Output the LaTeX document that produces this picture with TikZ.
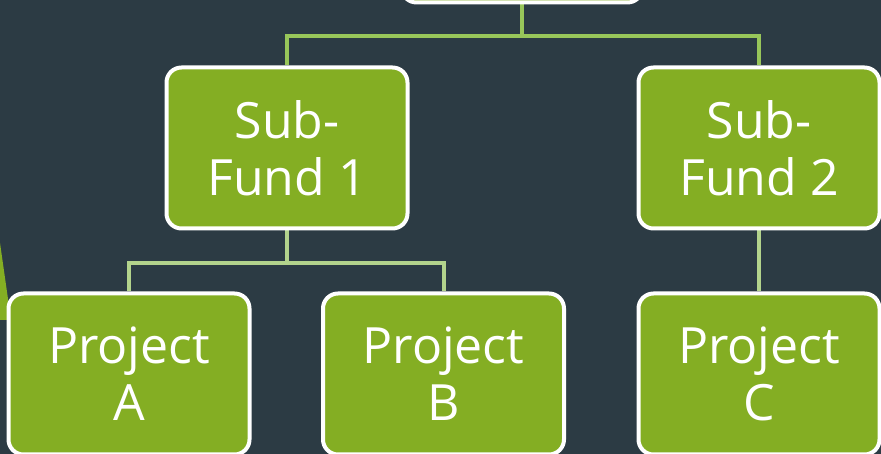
\documentclass[tikz,border=0pt]{standalone}
\usepackage{fontspec}
\setmainfont{Open Sans}
\definecolor{bgc}{HTML}{2C3B44}
\definecolor{boxc}{HTML}{84AE23}
\definecolor{lineA}{HTML}{98C65A}
\definecolor{lineB}{HTML}{B3D38C}
\pgfdeclarelayer{bottom}
\pgfdeclarelayer{background}
\pgfsetlayers{bottom,background,main}
\begin{document}
\begin{tikzpicture}[x=1pt,y=1pt,
  box/.style={draw=white, line width=4pt, fill=boxc, rounded corners=15pt,
    minimum width=241pt, minimum height=161pt, inner sep=0pt, align=center,
    text=white, font=\fontsize{50}{57}\selectfont},
  conn/.style={line width=4pt},
]
\useasboundingbox (0,0) rectangle (881,454);
\clip (0,0) rectangle (881,454);
\begin{pgfonlayer}{bottom}
\fill[bgc] (0,0) rectangle (881,454);
\fill[boxc] (0,211) -- (11,134) -- (0,134) -- cycle;
\end{pgfonlayer}
% nodes
\node[box] (top) at (522,532) {};
\node[box] (sf1) at (287,306) {Sub-\\Fund 1};
\node[box] (sf2) at (759,306) {Sub-\\Fund 2};
\node[box] (pa) at (129,80) {Project\\A};
\node[box] (pb) at (443.5,80) {Project\\B};
\node[box] (pc) at (759,80) {Project\\C};
% connectors (behind boxes)
\begin{pgfonlayer}{background}
\draw[conn, lineA] (top.south) -- ++(0,-32) coordinate (j1);
\draw[conn, lineA] (sf1.north) |- (j1) -| (sf2.north);
\draw[conn, lineB] (sf1.south) -- ++(0,-33) coordinate (j2);
\draw[conn, lineB] (pa.north) |- (j2) -| (pb.north);
\draw[conn, lineB] (sf2.south) -- (pc.north);
\end{pgfonlayer}
\end{tikzpicture}
\end{document}
